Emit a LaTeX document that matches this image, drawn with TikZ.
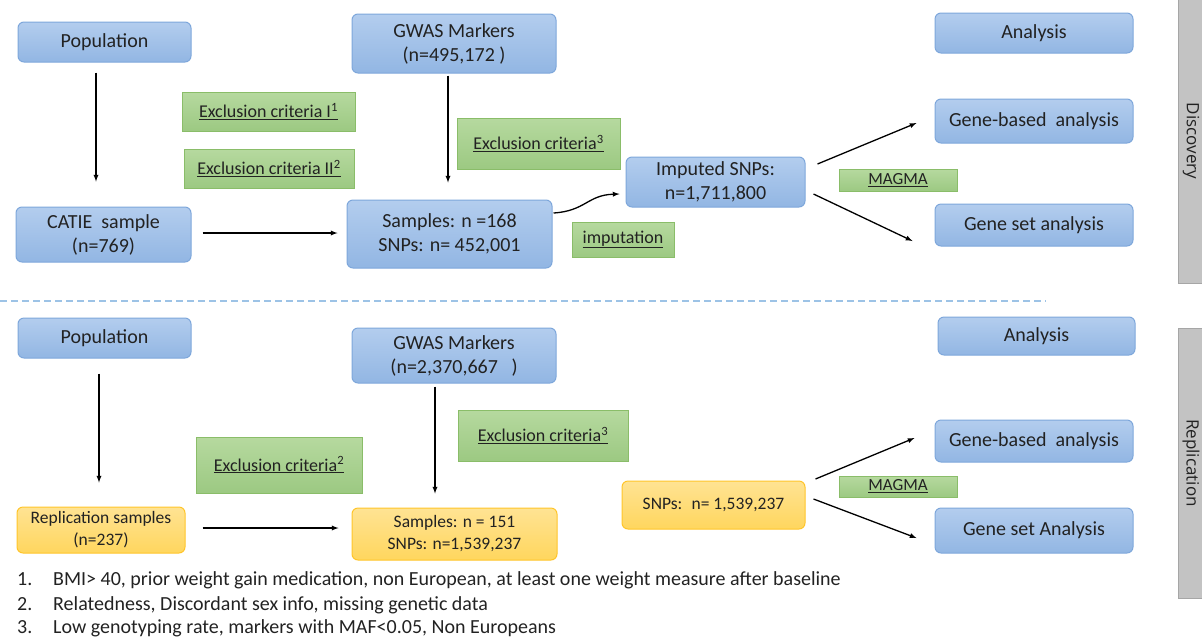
\documentclass[tikz,border=0pt]{standalone}
\usepackage{fontspec}
\setmainfont{Carlito}
\newfontfamily\bandfont{Open Sans}

\definecolor{blueTop}{HTML}{B3CDEE}
\definecolor{blueBot}{HTML}{92B6E3}
\definecolor{blueLine}{HTML}{7EA7DB}
\definecolor{greenTop}{HTML}{B6D99F}
\definecolor{greenBot}{HTML}{9CC982}
\definecolor{greenLine}{HTML}{8ABD69}
\definecolor{orangeTop}{HTML}{FFE393}
\definecolor{orangeBot}{HTML}{FFD65E}
\definecolor{orangeLine}{HTML}{FFC52A}
\definecolor{bandGray}{HTML}{C3C3C3}
\definecolor{dashBlue}{HTML}{9DC3E6}
\definecolor{ink}{HTML}{222222}

\begin{document}
\begin{tikzpicture}[x=1pt, y=-1pt,
    bluebox/.style={draw=blueLine, line width=1pt, rounded corners=6pt, top color=blueTop, bottom color=blueBot,
        text=ink, align=center, font=\fontsize{20}{24}\selectfont, inner sep=0pt},
    greenbox/.style={draw=greenLine, line width=1pt, top color=greenTop, bottom color=greenBot,
        text=ink, align=center, font=\fontsize{18}{22}\selectfont, inner sep=0pt},
    orangebox/.style={draw=orangeLine, line width=1pt, rounded corners=6pt, top color=orangeTop, bottom color=orangeBot,
        text=ink, align=center, font=\fontsize{17.5}{22}\selectfont, inner sep=0pt},
    sideband/.style={draw=black!35, fill=bandGray, rotate=-90, text=ink, font=\bandfont\fontsize{17}{20}\selectfont, inner sep=0pt},
    note/.style={anchor=base west, text=ink, font=\fontsize{20}{24}\selectfont, inner sep=0pt},
    arr/.style={-latex, line width=1.3pt, black}]
    \useasboundingbox (0,0) rectangle (1202,638);

    % discovery
    \node[bluebox, minimum width=173pt, minimum height=40pt] (pop1) at (104.5,42) {Population};
    \node[bluebox, minimum width=204pt, minimum height=59pt] (gwas1) at (454,43.5) {GWAS Markers\\(n=495,172 )};
    \node[bluebox, minimum width=198pt, minimum height=40pt] (ana1) at (1034,33) {Analysis};
    \node[greenbox, minimum width=173pt, minimum height=39pt] (exc1a) at (268.5,111.5) {\underline{Exclusion criteria I\textsuperscript{1}}};
    \node[greenbox, minimum width=170pt, minimum height=39pt] (exc1b) at (269,168.5) {\underline{Exclusion criteria II\textsuperscript{2}}};
    \node[greenbox, minimum width=163pt, minimum height=51pt] (exc1c) at (538.5,143.5) {\underline{Exclusion criteria\textsuperscript{3}}};
    \node[bluebox, minimum width=175pt, minimum height=55pt] (catie) at (103.5,234.5) {CATIE~ sample\\(n=769)};
    \node[bluebox, minimum width=205pt, minimum height=68pt] (samp1) at (449.5,234) {Samples: n =168\\SNPs: n= 452,001};
    \node[greenbox, minimum width=102pt, minimum height=35pt] (imput) at (623,239.5) {\underline{imputation}};
    \node[bluebox, minimum width=179pt, minimum height=50pt] (imp1) at (715.5,182) {Imputed SNPs:\\n=1,711,800};
    \node[greenbox, minimum width=118pt, minimum height=22pt, font=\fontsize{17}{20}\selectfont] (magma1) at (898,180) {\underline{MAGMA}};
    \node[bluebox, minimum width=198pt, minimum height=44pt] (gb1) at (1034,121) {Gene-based~ analysis};
    \node[bluebox, minimum width=198pt, minimum height=42pt] (gs1) at (1034,225) {Gene set analysis};
    \node[sideband, minimum width=284pt, minimum height=26pt] (disc) at (1191,141) {Discovery};

    \draw[arr] ([shift={(-8.5,10)}]pop1.south) -- ([shift={(-7.5,-25)}]catie.north);
    \draw[arr] ([shift={(11,-1.5)}]catie.east) -- ([shift={(-9,-1)}]samp1.west);
    \draw[arr] ([shift={(-6,2)}]gwas1.south) -- ([shift={(-1.5,-17)}]samp1.north);
    \draw[arr] ([shift={(1,-21)}]samp1.east) .. controls +(32,-2) and +(-32,1) .. ([shift={(-6,12)}]imp1.west);
    \draw[arr] ([shift={(12,-18)}]imp1.east) -- ([shift={(-18,2)}]gb1.west);
    \draw[arr] ([shift={(8,12)}]imp1.east) -- ([shift={(-22,16)}]gs1.west);

    % separator
    \coordinate (sepL) at (0,301);
    \coordinate (sepR) at (1046,301);
    \draw[dashBlue, line width=1.2pt, dash pattern=on 7pt off 4pt] (sepL) -- (sepR);

    % replication
    \node[bluebox, minimum width=173pt, minimum height=40pt] (pop2) at (104.5,338) {Population};
    \node[bluebox, minimum width=204pt, minimum height=55pt] (gwas2) at (454,355.5) {GWAS Markers\\(n=2,370,667~~ )};
    \node[bluebox, minimum width=197pt, minimum height=38pt] (ana2) at (1036.5,336) {Analysis};
    \node[greenbox, minimum width=166pt, minimum height=56pt] (exc2) at (279,465) {\underline{Exclusion criteria\textsuperscript{2}}};
    \node[greenbox, minimum width=170pt, minimum height=51pt] (exc3) at (543,435.5) {\underline{Exclusion criteria\textsuperscript{3}}};
    \node[orangebox, minimum width=168pt, minimum height=46pt] (rep) at (101,530) {Replication samples\\(n=237)};
    \node[orangebox, minimum width=205pt, minimum height=52pt] (samp2) at (454.5,534) {Samples: n = 151\\SNPs: n=1,539,237};
    \node[orangebox, minimum width=183pt, minimum height=48pt] (snp2) at (713.5,505) {SNPs:~ n= 1,539,237};
    \node[greenbox, minimum width=118pt, minimum height=21pt, font=\fontsize{17}{20}\selectfont] (magma2) at (898,486.5) {\underline{MAGMA}};
    \node[bluebox, minimum width=198pt, minimum height=42pt] (gb2) at (1034,441) {Gene-based~ analysis};
    \node[bluebox, minimum width=198pt, minimum height=45pt] (gs2) at (1034,530.5) {Gene set Analysis};
    \node[sideband, minimum width=270pt, minimum height=26pt] (repl) at (1191,463) {Replication};

    \draw[arr] ([shift={(-5.5,15)}]pop2.south) -- ([shift={(-2,-24)}]rep.north);
    \draw[arr] ([shift={(17,-2)}]rep.east) -- ([shift={(-13,-6)}]samp2.west);
    \draw[arr] ([shift={(-19,3)}]gwas2.south) -- ([shift={(-19.5,-14)}]samp2.north);
    \draw[arr] ([shift={(10,-26)}]snp2.east) -- ([shift={(-20,-3)}]gb2.west);
    \draw[arr] ([shift={(8,-6)}]snp2.east) -- ([shift={(-18,7.5)}]gs2.west);

    % footnotes
    \node[note] (note1) at (17,585) {\makebox[36pt][l]{1.}BMI> 40, prior weight gain medication, non European, at least one weight measure after baseline};
    \node[note] (note2) at (17,610) {\makebox[36pt][l]{2.}Relatedness, Discordant sex info, missing genetic data};
    \node[note] (note3) at (17,633) {\makebox[36pt][l]{3.}Low genotyping rate, markers with MAF<0.05, Non Europeans};
\end{tikzpicture}
\end{document}
